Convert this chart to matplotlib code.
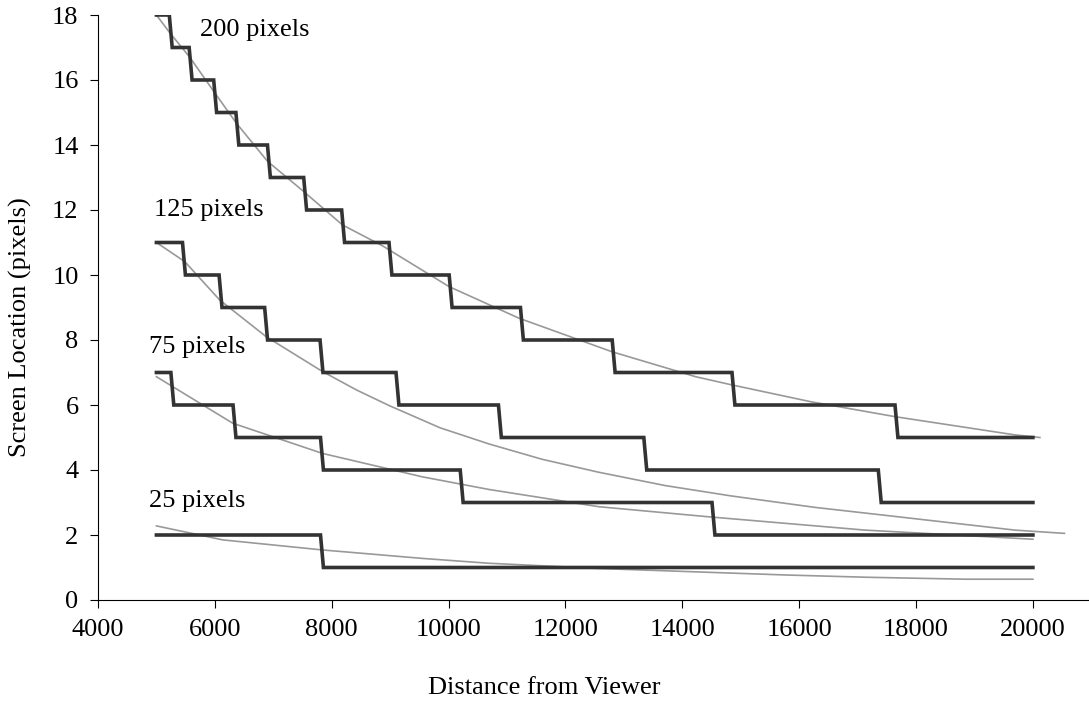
import matplotlib
matplotlib.use('Agg')
import matplotlib.pyplot as plt
import numpy as np

plt.rcParams['font.family'] = ['Liberation Serif', 'DejaVu Serif']

# 阶梯线：起始距离、每次下降的位置、各段的值
start_d = 5000
end_d = 20000
steps_200 = [5220, 5560, 5980, 6360, 6900, 7520, 8170, 8980, 10010, 11230, 12800, 14850, 17640]
vals_200 = [18, 17, 16, 15, 14, 13, 12, 11, 10, 9, 8, 7, 6, 5]
steps_125 = [5446, 6072, 6852, 7800, 9100, 10853, 13341, 17354]
vals_125 = [11, 10, 9, 8, 7, 6, 5, 4, 3]
steps_75 = [5247, 6311, 7808, 10199, 14508]
vals_75 = [7, 6, 5, 4, 3, 2]
steps_25 = [7808]
vals_25 = [2, 1]

# 灰色曲线（实际投影位置）
gray_200_d = [5000, 5230, 5571, 6000, 6369, 6900, 7500, 8184, 8867, 10011, 11206, 12794, 14229, 14844, 16200, 17644, 19693, 20120]
gray_200_v = [18.0, 17.45, 16.7, 15.6, 14.67, 13.5, 12.6, 11.54, 10.9, 9.64, 8.67, 7.64, 6.87, 6.62, 6.1, 5.64, 5.08, 5.0]
gray_125_d = [5000, 5486, 6083, 6880, 7842, 8427, 8986, 9852, 10694, 11600, 12572, 13710, 14844, 16270, 17695, 19693, 20540]
gray_125_v = [11.0, 10.41, 9.23, 8.1, 7.03, 6.46, 5.98, 5.3, 4.8, 4.33, 3.93, 3.52, 3.2, 2.85, 2.56, 2.15, 2.05]
gray_75_d = [5000, 6305, 7842, 9550, 10694, 12572, 14451, 17131, 20000]
gray_75_v = [6.87, 5.44, 4.51, 3.79, 3.4, 2.87, 2.56, 2.15, 1.87]
gray_25_d = [5000, 6134, 7842, 9550, 10694, 12572, 15765, 17150, 18840, 20000]
gray_25_v = [2.28, 1.85, 1.54, 1.28, 1.13, 0.97, 0.77, 0.70, 0.64, 0.64]

labels = ['200 pixels', '125 pixels', '75 pixels', '25 pixels']
label_pos = [(5750, 17.55), (4950, 12.0), (4880, 7.8), (4880, 3.05)]

DARK = '#333333'
GRAY = '#999999'


def step_path(steps, vals, slant=50):
    xs = [start_d]
    ys = [vals[0]]
    for i, s in enumerate(steps):
        xs += [s, s + slant]
        ys += [vals[i], vals[i + 1]]
    xs.append(end_d)
    ys.append(vals[-1])
    return xs, ys


fig = plt.figure(figsize=(10.89, 7.03), dpi=100)
ax = fig.add_axes([98 / 1089, 1 - 600 / 703, 1 - 98 / 1089, (600 - 15) / 703])

for gd, gv in [(gray_200_d, gray_200_v), (gray_125_d, gray_125_v),
               (gray_75_d, gray_75_v), (gray_25_d, gray_25_v)]:
    ax.plot(gd, gv, color=GRAY, linewidth=1.2, zorder=2)

for st, vl in [(steps_200, vals_200), (steps_125, vals_125),
               (steps_75, vals_75), (steps_25, vals_25)]:
    xs, ys = step_path(st, vl)
    ax.plot(xs, ys, color=DARK, linewidth=2.6, zorder=3, solid_joinstyle='miter')

for lab, (lx, ly) in zip(labels, label_pos):
    ax.text(lx, ly, lab, fontsize=19, va='center', ha='left')

ax.set_xlim(4000, 20960)
ax.set_ylim(0, 18)
ax.set_xticks(np.arange(4000, 20001, 2000))
ax.set_yticks(np.arange(0, 19, 2))
ax.tick_params(labelsize=19, direction='out', length=6, width=0.8, pad=8)
ax.spines['top'].set_visible(False)
ax.spines['right'].set_visible(False)
ax.spines['left'].set_linewidth(0.8)
ax.spines['bottom'].set_linewidth(0.8)

fig.text(544 / 1089, 1 - 688 / 703, 'Distance from Viewer', fontsize=19, ha='center', va='center')
fig.text(20 / 1089, 1 - 327 / 703, 'Screen Location (pixels)', fontsize=19, ha='center', va='center', rotation=90)

plt.savefig('out.png', dpi=100)
